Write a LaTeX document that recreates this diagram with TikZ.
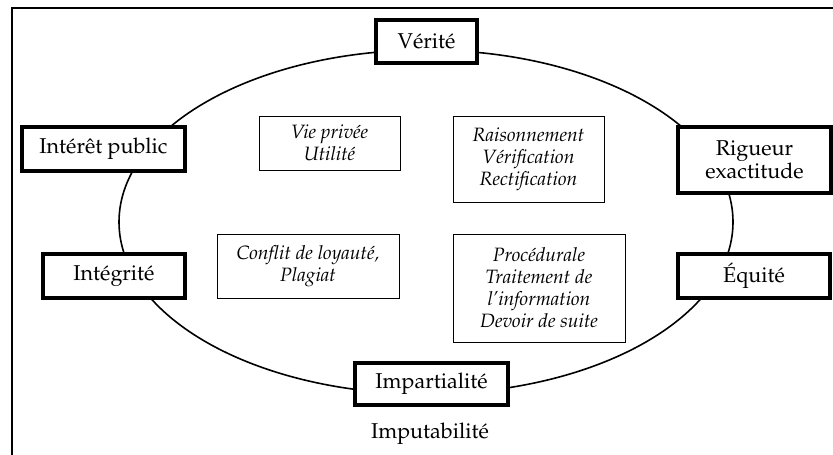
\documentclass[tikz,border=0pt]{standalone}
\usepackage[T1]{fontenc}
\renewcommand{\rmdefault}{ppl}
\tikzset{
  valbox/.style={draw=black, line width=4pt, fill=white, align=center, inner sep=0pt,
    font=\fontsize{21.5}{23}\selectfont},
  notebox/.style={draw=black, line width=0.9pt, fill=white, align=center, inner sep=0pt,
    font=\fontsize{19.3}{22}\selectfont\itshape},
}
\begin{document}
\begin{tikzpicture}[x=1pt,y=-1pt]
\useasboundingbox (0,0) rectangle (833,455);
% frame (clipped at right and bottom)
\draw[line width=2.5pt] (12,460) -- (12,8) -- (840,8);
% ellipse
\coordinate (c) at (426,222);
\draw[line width=1.6pt] (c) ellipse [x radius=307pt, y radius=172pt];
% value boxes
\node[valbox, minimum width=101pt, minimum height=43pt] (verite) at (426.5,41.5) {Vérité};
\node[valbox, minimum width=163pt, minimum height=44pt] (interet) at (103.5,149) {Intérêt public};
\node[valbox, minimum width=153pt, minimum height=66pt] (rigueur) at (754.5,160) {Rigueur\\exactitude};
\node[valbox, minimum width=142pt, minimum height=44pt] (integrite) at (114,276) {Intégrité};
\node[valbox, minimum width=152pt, minimum height=44pt] (equite) at (754,276) {Équité};
\node[valbox, minimum width=153pt, minimum height=42pt] (impart) at (431.5,384) {Impartialité};
\node[font=\fontsize{21.5}{23}\selectfont, inner sep=0pt] (imput) at (430,434) {Imputabilité};
% note boxes
\node[notebox, minimum width=141pt, minimum height=54pt] (vie) at (329.5,143) {Vie privée\\Utilité};
\node[notebox, minimum width=151pt, minimum height=86pt] (rais) at (528.5,159) {Raisonnement\\Vérification\\Rectification};
\node[notebox, minimum width=182pt, minimum height=64pt] (conflit) at (308,266) {Conflit de loyauté,\\Plagiat};
\node[notebox, minimum width=172pt, minimum height=108pt] (proc) at (539,288) {Procédurale\\Traitement de\\l'information\\Devoir de suite};
\end{tikzpicture}
\end{document}
